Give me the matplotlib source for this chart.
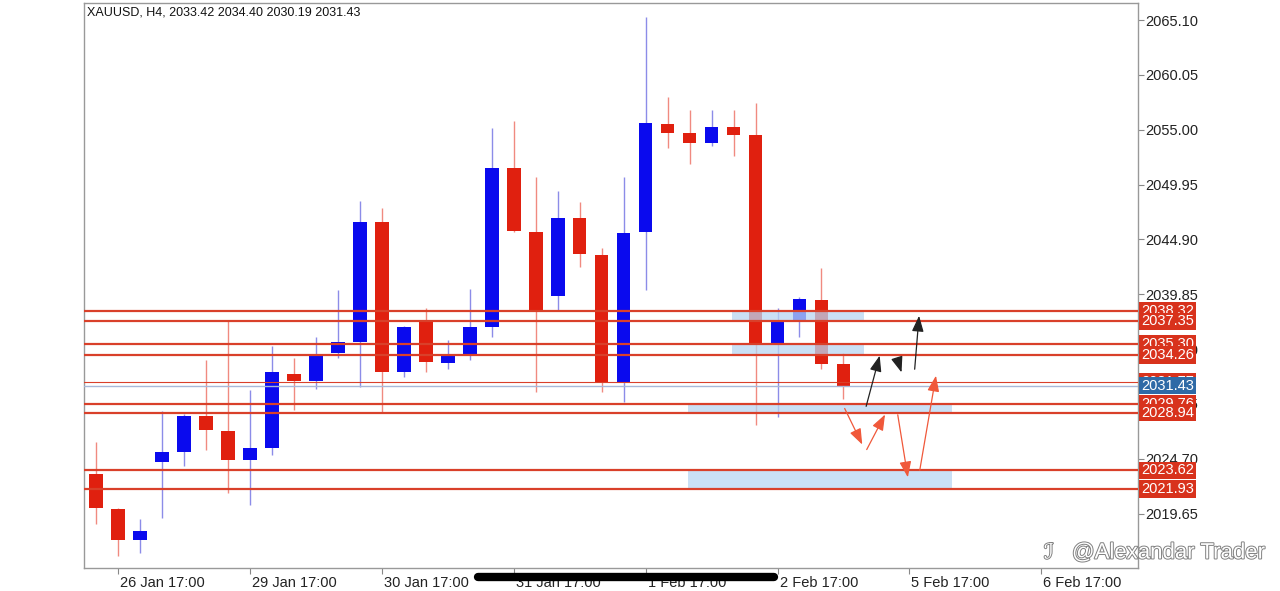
import matplotlib
matplotlib.use('Agg')
import matplotlib.pyplot as plt
from matplotlib.patches import Rectangle
from matplotlib.lines import Line2D
import matplotlib.patheffects as pe
import matplotlib.transforms as mtransforms

plt.rcParams['font.family'] = ['Liberation Sans', 'DejaVu Sans']

title = 'XAUUSD, H4, 2033.42 2034.40 2030.19 2031.43'

# H4 bars
opens = [2023.30, 2020.07, 2017.22, 2024.40, 2025.32, 2028.64, 2027.26, 2024.58, 2025.69, 2032.50,
         2031.86, 2034.44, 2035.45, 2046.50, 2032.69, 2037.29, 2033.52, 2034.16, 2036.83, 2051.47,
         2045.58, 2039.69, 2046.87, 2043.46, 2031.77, 2045.58, 2055.52, 2054.69, 2053.77, 2055.25,
         2054.51, 2035.36, 2037.29, 2039.32, 2033.42]
highs = [2026.24, 2020.20, 2019.15, 2029.10, 2028.82, 2033.79, 2037.38, 2031.03, 2035.08, 2033.98,
         2035.91, 2040.24, 2048.43, 2047.79, 2036.90, 2038.58, 2035.63, 2040.33, 2055.16, 2055.80,
         2050.64, 2049.35, 2048.34, 2044.11, 2050.64, 2065.38, 2058.01, 2056.81, 2056.81, 2056.81,
         2057.46, 2038.58, 2039.59, 2042.26, 2034.40]
lows = [2018.69, 2015.75, 2016.02, 2019.24, 2024.03, 2025.51, 2021.55, 2020.44, 2025.05, 2029.19,
        2031.12, 2033.98, 2031.31, 2029.00, 2032.23, 2032.69, 2032.96, 2033.79, 2035.91, 2045.60,
        2030.85, 2038.40, 2042.36, 2030.85, 2029.93, 2040.24, 2053.31, 2051.84, 2053.50, 2052.58,
        2027.81, 2028.54, 2035.91, 2032.96, 2030.19]
closes = [2020.16, 2017.22, 2018.05, 2025.32, 2028.64, 2027.35, 2024.58, 2025.69, 2032.69, 2031.86,
          2034.35, 2035.45, 2046.50, 2032.69, 2036.83, 2033.61, 2034.16, 2036.83, 2051.47, 2045.67,
          2038.40, 2046.87, 2043.55, 2031.77, 2045.49, 2055.62, 2054.69, 2053.77, 2055.25, 2054.51,
          2035.36, 2037.29, 2039.41, 2033.42, 2031.43]

tick_bars = [1, 7, 13, 19, 25, 31, 37, 43]
tick_labels = ['26 Jan 17:00', '29 Jan 17:00', '30 Jan 17:00', '31 Jan 17:00',
               '1 Feb 17:00', '2 Feb 17:00', '5 Feb 17:00', '6 Feb 17:00']
price_ticks = [2019.65, 2024.70, 2029.75, 2034.80, 2039.85, 2044.90, 2049.95, 2055.00, 2060.05, 2065.10]

levels = [2038.32, 2037.35, 2035.30, 2034.26, 2029.76, 2028.94, 2023.62, 2021.93]
hidden_level = 2031.77
bid = 2031.43

# zones: (bar start, bar end, low, high)
zones = [(28.95, 34.95, 2037.35, 2038.32),
         (28.95, 34.95, 2034.26, 2035.30),
         (26.95, 38.95, 2028.94, 2029.76),
         (26.95, 38.95, 2021.93, 2023.62)]

# arrows: (bar0, price0, bar1, price1)
black_arrows = [(35.0, 2029.28, 35.68, 2034.44),
                (36.45, 2033.88, 36.68, 2032.41),
                (37.23, 2032.69, 37.45, 2038.12)]
red_arrows = [(34.0, 2029.56, 34.91, 2025.78),
              (35.0, 2025.32, 35.95, 2029.00),
              (36.45, 2029.00, 36.95, 2022.74),
              (37.45, 2023.39, 38.23, 2032.60)]

UP = '#0a0aee'
DOWN = '#e0200f'
LEVEL = '#d9402a'

fig = plt.figure(figsize=(12.8, 5.91), dpi=100)
ax = fig.add_axes([84 / 1280, 23 / 591, 1054 / 1280, 565 / 591])

w = 0.62
for i in range(len(opens)):
    o, h, l, c = opens[i], highs[i], lows[i], closes[i]
    bull = c >= o
    ax.vlines(i, l, h, color='#8c8ce8' if bull else '#f08a80', lw=1, zorder=2)
    ax.add_patch(Rectangle((i - w / 2, min(o, c)), w, max(abs(c - o), 0.15),
                           facecolor=UP if bull else DOWN, edgecolor='none', zorder=3))

for x0, x1, lo, hi in zones:
    ax.add_patch(Rectangle((x0, lo), x1 - x0, hi - lo, facecolor='#b9d6f2',
                           edgecolor='none', alpha=0.75, zorder=4))

ax.axhline(bid, color='#a8b8d8', lw=1, zorder=5)
ax.axhline(hidden_level, color=LEVEL, lw=0.8, zorder=5)
for lv in levels:
    ax.axhline(lv, color=LEVEL, lw=1.6, zorder=5)

head = '-|>,head_length=0.8,head_width=0.3'
for x0, p0, x1, p1 in black_arrows:
    ax.annotate('', xy=(x1, p1), xytext=(x0, p0),
                arrowprops=dict(arrowstyle=head, color='#222222', lw=0.9, mutation_scale=12), zorder=6)
for x0, p0, x1, p1 in red_arrows:
    ax.annotate('', xy=(x1, p1), xytext=(x0, p0),
                arrowprops=dict(arrowstyle=head, color='#f0583a', lw=0.9, mutation_scale=12), zorder=6)

ax.set_xlim(-0.55, 47.4)
ax.set_ylim(2014.64, 2066.67)

ax.yaxis.tick_right()
ax.set_yticks(price_ticks)
ax.set_yticklabels([f'{p:.2f}' for p in price_ticks])
ax.set_xticks(tick_bars)
ax.set_xticklabels(tick_labels, ha='left')
ax.tick_params(axis='y', direction='out', length=4, width=0.8, color='#888888',
               labelsize=10.5, labelcolor='#222222', pad=1)
ax.tick_params(axis='x', direction='out', length=4, width=0.8, color='#888888',
               labelsize=10.5, labelcolor='#222222', pad=2)
for lbl in ax.get_xticklabels():
    lbl.set_transform(lbl.get_transform() + mtransforms.ScaledTranslation(2 / 100, 0, fig.dpi_scale_trans))
for s in ax.spines.values():
    s.set_color('#999999')
    s.set_linewidth(1)

ax.text(0.003, 0.983, title, transform=ax.transAxes, fontsize=9, color='#111111', va='center', ha='left')

# price labels on the axis
ytr = mtransforms.blended_transform_factory(ax.transAxes, ax.transData)
ax.text(1.003, hidden_level, f'{hidden_level:.2f}', transform=ytr, fontsize=10.5, color='white',
        va='center', ha='left', clip_on=False, zorder=10,
        bbox=dict(boxstyle='square,pad=0.12', facecolor='#d8321c', edgecolor='none'))
for lv in levels:
    ax.text(1.003, lv, f'{lv:.2f}', transform=ytr, fontsize=10.5, color='white',
            va='center', ha='left', clip_on=False, zorder=10,
            bbox=dict(boxstyle='square,pad=0.12', facecolor='#d8321c', edgecolor='none'))
ax.text(1.003, bid, f'{bid:.2f}', transform=ytr, fontsize=10.5, color='white',
        va='center', ha='left', clip_on=False, zorder=11,
        bbox=dict(boxstyle='square,pad=0.12', facecolor='#2f6aa6', edgecolor='none'))

# scribble over two date labels
fig.add_artist(Line2D([478 / 1280, 774 / 1280], [1 - 577 / 591, 1 - 577 / 591],
                      color='black', lw=6, solid_capstyle='round'))

# watermark
fig.text(1044 / 1280, 1 - 553 / 591, '\u2110', fontsize=15, color='white', va='center', ha='left',
         path_effects=[pe.withStroke(linewidth=1.4, foreground='#808080')])
fig.text(1072 / 1280, 1 - 553 / 591, '@Alexandar Trader', fontsize=16, color='white',
         va='center', ha='left', fontweight='light',
         path_effects=[pe.withStroke(linewidth=1.4, foreground='#808080')])

fig.savefig('out.png', dpi=100, facecolor='white')
